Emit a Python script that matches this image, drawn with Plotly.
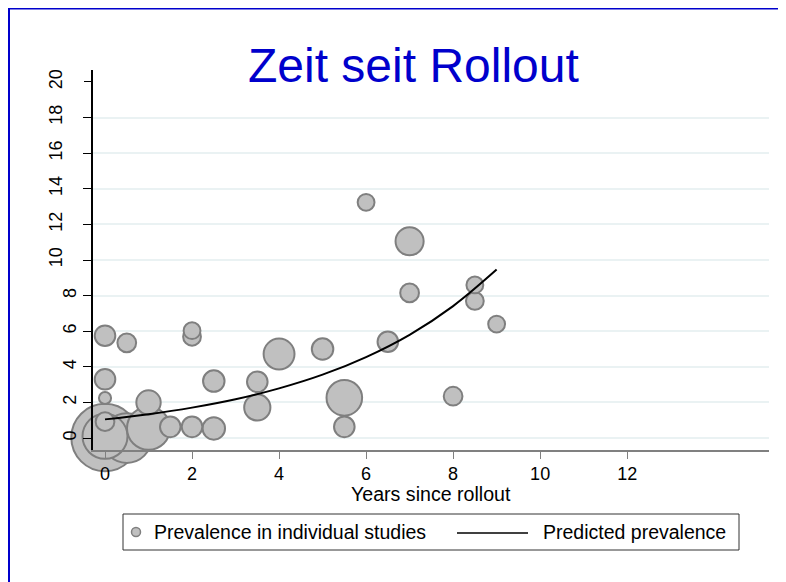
import plotly.graph_objects as go
import numpy as np

# individual studies: years since rollout, prevalence (%), study weight
years = [0, 0.5, 0, 0, 0, 0, 0, 0.5, 1, 1, 1.5, 2, 2, 2, 2.5, 2.5,
         3.5, 3.5, 4, 5, 5.5, 5.5, 6, 6.5, 7, 7, 8, 8.5, 8.5, 9]
prevalence = [5.75, 5.35, 3.3, 2.25, 0.92, 0.03, 0.1, 0.0, 0.55, 2.0, 0.63, 0.63, 6.03, 5.69, 3.2, 0.54,
              3.16, 1.72, 4.72, 5.0, 2.26, 0.63, 13.24, 5.41, 11.05, 8.15, 2.35, 8.6, 7.7, 6.4]
weight = [121, 100, 121, 42, 100, 1296, 576, 702, 529, 169, 121, 121, 81, 90, 132, 144,
          121, 196, 272, 132, 361, 121, 81, 121, 225, 100, 100, 81, 90, 81]

# predicted prevalence curve
pred_years = [0, 1, 2, 3, 4, 5, 6, 7, 8, 9]
pred_prev = [1.05, 1.34, 1.71, 2.18, 2.79, 3.56, 4.55, 5.80, 7.41, 9.46]

x_ticks = [0, 2, 4, 6, 8, 10, 12]
y_ticks_low = [0, 2, 4, 6, 8]
y_ticks_high = [10, 12, 14, 16, 18, 20]

# page body adds an 8px offset, so the figure itself is 8px smaller
OFF = 8
W, H = 786 - OFF, 582 - OFF
L, R, T, B = 93 - OFF, 17, 70 - OFF, 132
FONT = 'Liberation Sans, Arial, Helvetica, sans-serif'
BLUE = '#0000cc'


def px_x(px):
    # screen pixel -> paper x
    return (px - OFF - L) / (W - L - R)


def px_y(py):
    # screen pixel -> paper y
    return (H - B - (py - OFF)) / (H - T - B)


# big bubbles first so the small ones stay visible on top
order = np.argsort(weight, kind='stable')[::-1]
xs = np.array(years)[order]
ys = np.array(prevalence)[order]
ws = np.array(weight)[order]

fig = go.Figure()
fig.add_trace(go.Scatter(
    x=xs, y=ys, mode='markers', cliponaxis=False,
    marker=dict(size=ws, sizemode='area', sizeref=0.57, color='#c0c0c0', opacity=1,
                line=dict(color='#7f7f7f', width=2)),
    name='Prevalence in individual studies'))
fig.add_trace(go.Scatter(
    x=pred_years, y=pred_prev, mode='lines', line=dict(color='black', width=2, shape='spline'),
    name='Predicted prevalence'))
# empty trace so the second y axis (labels 10-20) is drawn
fig.add_trace(go.Scatter(x=[None], y=[None], yaxis='y2', showlegend=False))

yr = [-0.67, 20.67]
fig.update_layout(
    width=W, height=H, margin=dict(l=L, r=R, t=T, b=B),
    plot_bgcolor='white', paper_bgcolor='white', showlegend=False,
    font=dict(family=FONT, size=18, color='black'),
    xaxis=dict(range=[-0.276, 15.26], tickvals=x_ticks, ticks='outside', ticklen=7,
               tickcolor='#808080', showline=True, linecolor='#808080', linewidth=1.5,
               showgrid=False, zeroline=False, tickfont=dict(size=18)),
    yaxis=dict(range=yr, tickvals=y_ticks_low + y_ticks_high[:-1],
               ticktext=[str(v) for v in y_ticks_low] + [''] * 5,
               ticks='outside', ticklen=8, tickcolor='black', tickangle=-90,
               showline=True, linecolor='black', linewidth=1.5,
               showgrid=True, gridcolor='#eaf2f3', gridwidth=1.5, zeroline=False),
    yaxis2=dict(range=yr, overlaying='y', side='left', anchor='x', tickvals=y_ticks_high,
                ticks='outside', ticklen=8, tickcolor='black', tickangle=-90,
                ticklabelstandoff=15, showgrid=False, showline=False, zeroline=False),
)

# title and x axis title
fig.add_annotation(text='Zeit seit Rollout', x=px_x(413), y=px_y(66), xref='paper', yref='paper',
                   showarrow=False, font=dict(size=48, color=BLUE), xanchor='center', yanchor='middle')
fig.add_annotation(text='Years since rollout', x=0.5, y=px_y(494), xref='paper', yref='paper',
                   showarrow=False, font=dict(size=19.6), xanchor='center', yanchor='middle')

# legend drawn by hand (Stata style box)
fig.add_shape(type='rect', xref='paper', yref='paper', x0=px_x(123), x1=px_x(739),
              y0=px_y(550), y1=px_y(514), line=dict(color='#333333', width=1), fillcolor='white')
fig.add_shape(type='circle', xref='paper', yref='paper', x0=px_x(131.5), x1=px_x(140.5),
              y0=px_y(536.5), y1=px_y(527.5), line=dict(color='#7f7f7f', width=1.5),
              fillcolor='#c0c0c0')
fig.add_shape(type='line', xref='paper', yref='paper', x0=px_x(457), x1=px_x(528),
              y0=px_y(533), y1=px_y(533), line=dict(color='black', width=1.5))
fig.add_annotation(text='Prevalence in individual studies', x=px_x(152), y=px_y(532),
                   xref='paper', yref='paper', showarrow=False, xanchor='left', yanchor='middle',
                   font=dict(size=19.5))
fig.add_annotation(text='Predicted prevalence', x=px_x(541), y=px_y(532),
                   xref='paper', yref='paper', showarrow=False, xanchor='left', yanchor='middle',
                   font=dict(size=19.5))

# blue frame (only top and left edges are visible in the crop)
fig.add_shape(type='line', xref='paper', yref='paper', x0=px_x(9), x1=px_x(9),
              y0=px_y(600), y1=px_y(7.5), line=dict(color=BLUE, width=2))
fig.add_shape(type='line', xref='paper', yref='paper', x0=px_x(9), x1=px_x(800),
              y0=px_y(8.5), y1=px_y(8.5), line=dict(color=BLUE, width=2))

fig.write_html("out.html")
